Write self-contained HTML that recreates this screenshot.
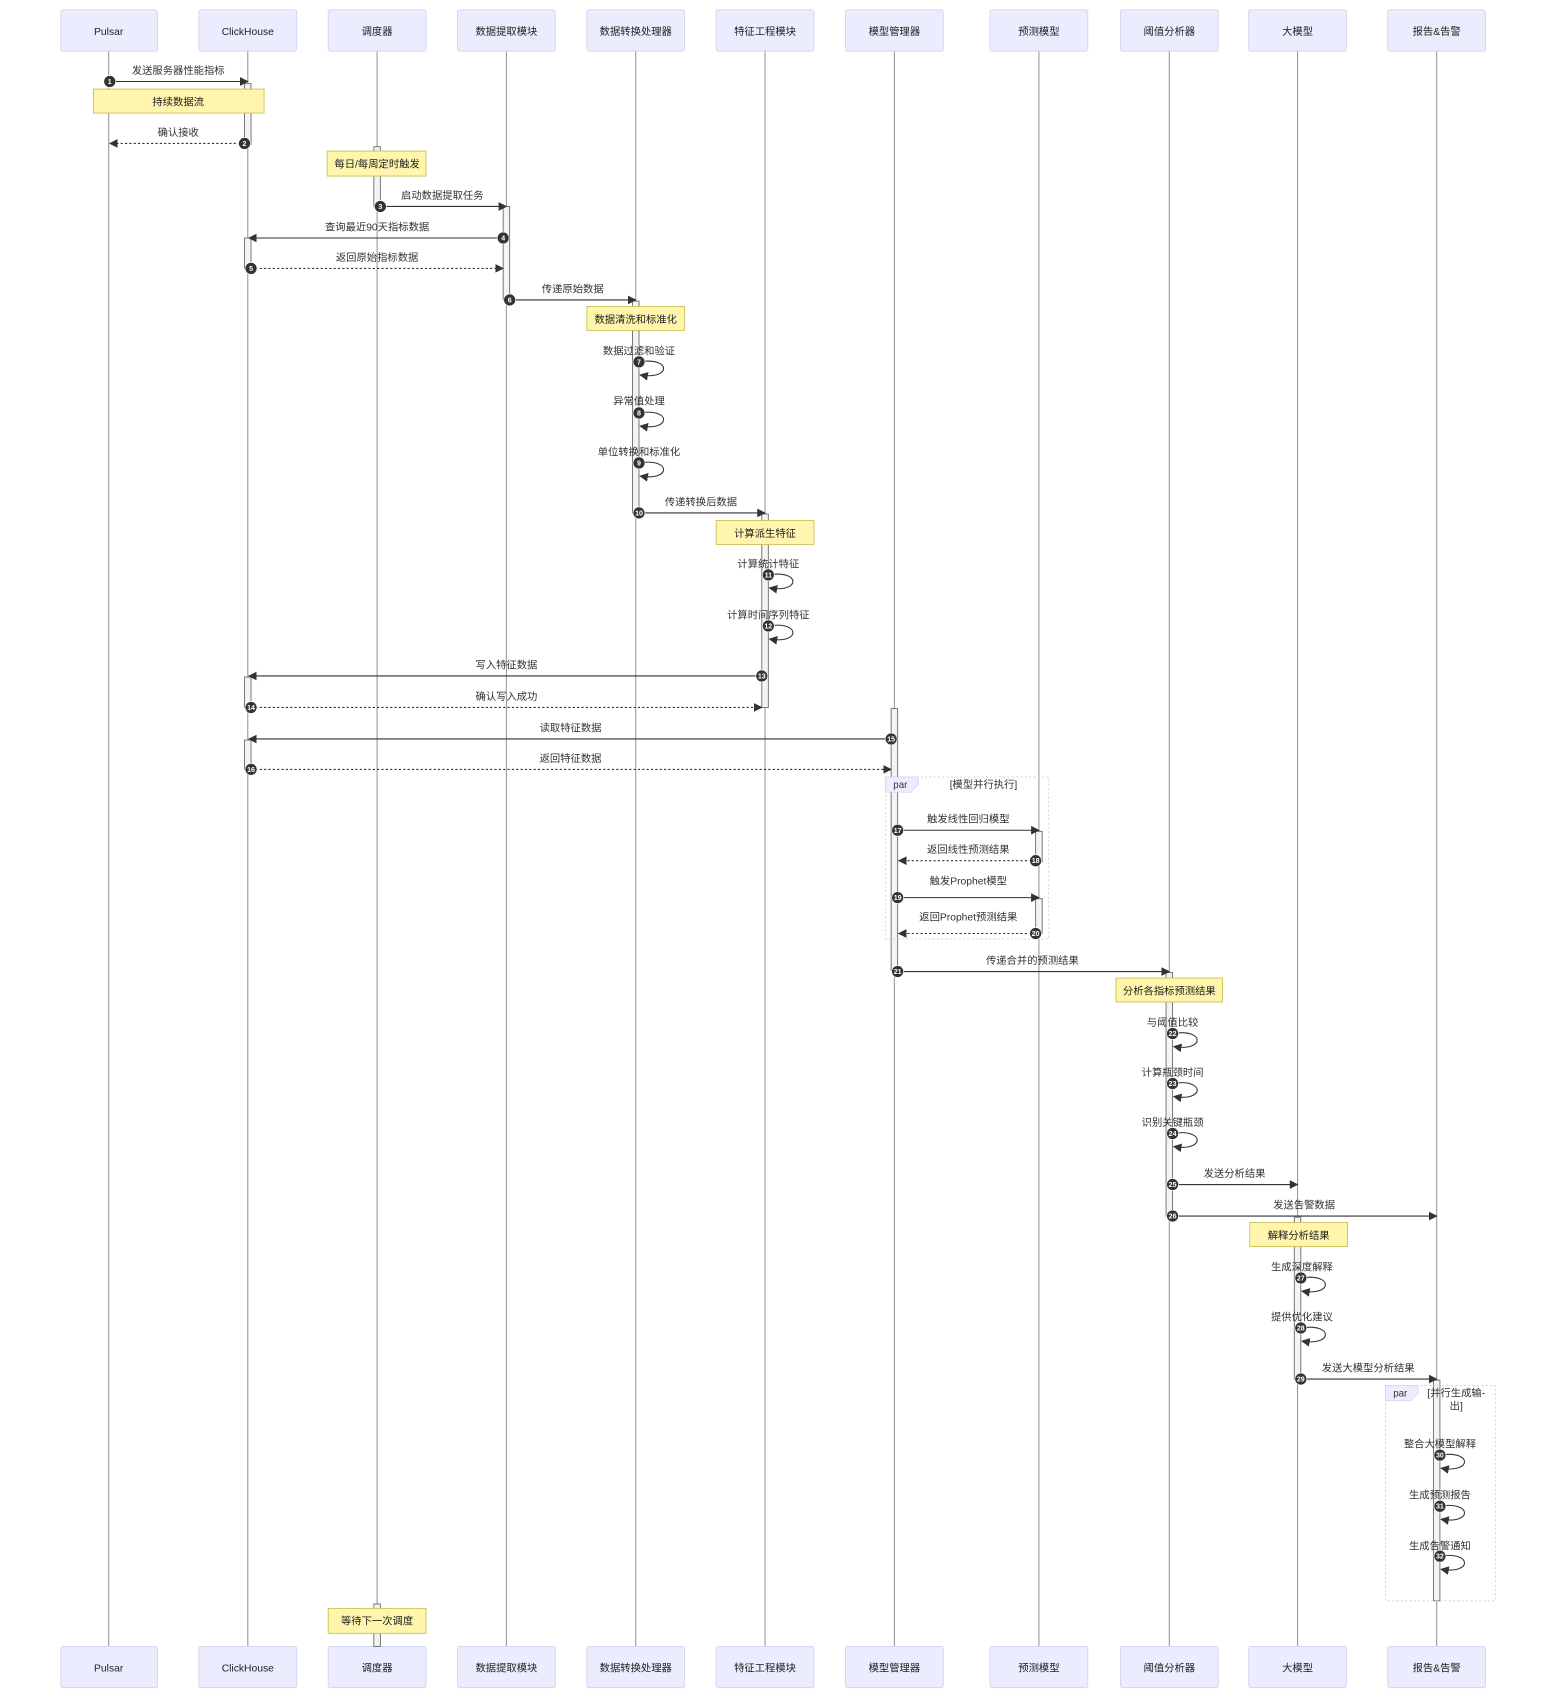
<!DOCTYPE html>
<html><head><meta charset="utf-8"><style>
html,body{margin:0;padding:0;background:#fff;}
svg{display:block;}
text{font-family:"Liberation Sans","Noto Sans CJK SC",sans-serif;fill:#333;}
.a{fill:#ECECFF;stroke:#d2d2f0;stroke-width:0.8;}
.at{font-size:9.5px;text-anchor:middle;fill:#222;}
.ll{stroke:#999;stroke-width:1;}
.m{stroke:#333;stroke-width:1;fill:none;marker-end:url(#ar);}
.d{stroke:#333;stroke-width:1;fill:none;stroke-dasharray:2,2;marker-end:url(#ar);}
.ml{font-size:9.5px;text-anchor:middle;}
.act{fill:#f4f4f4;stroke:#666;stroke-width:0.8;}
.n{fill:#fff5ad;stroke:#c8c050;stroke-width:0.8;}
.nt{font-size:9.5px;text-anchor:middle;fill:#222;}
.c{fill:#333;stroke:#fff;stroke-width:0.6;}
.ct{font-size:6.5px;text-anchor:middle;fill:#fff;font-weight:bold;}
.par{fill:none;stroke:#ccccee;stroke-width:0.8;stroke-dasharray:2,2;}
.pt{fill:#ECECFF;stroke:#ccccee;stroke-width:0.6;}
</style></head><body>
<svg width="1560" height="1704" viewBox="0 0 1435 1568" preserveAspectRatio="xMinYMin meet" xmlns="http://www.w3.org/2000/svg">
<defs><marker id="ar" viewBox="0 0 10 10" refX="9" refY="5" markerWidth="8" markerHeight="8" orient="auto" markerUnits="userSpaceOnUse"><path d="M0,0 L10,5 L0,10 z" fill="#333"/></marker></defs>

<g class="ll">
<line x1="100" y1="47" x2="100" y2="1515"/><line x1="228" y1="47" x2="228" y2="1515"/><line x1="347" y1="47" x2="347" y2="1515"/><line x1="466" y1="47" x2="466" y2="1515"/><line x1="585" y1="47" x2="585" y2="1515"/><line x1="704" y1="47" x2="704" y2="1515"/><line x1="823" y1="47" x2="823" y2="1515"/><line x1="956" y1="47" x2="956" y2="1515"/><line x1="1076" y1="47" x2="1076" y2="1515"/><line x1="1194" y1="47" x2="1194" y2="1515"/><line x1="1322" y1="47" x2="1322" y2="1515"/>
</g>

<g>
<rect class="a" x="56" y="9" width="89" height="38" rx="2"/><text class="at" x="100" y="32">Pulsar</text>
<rect class="a" x="183" y="9" width="90" height="38" rx="2"/><text class="at" x="228" y="32">ClickHouse</text>
<rect class="a" x="302" y="9" width="90" height="38" rx="2"/><text class="at" x="347" y="32">调度器</text>
<rect class="a" x="421" y="9" width="90" height="38" rx="2"/><text class="at" x="466" y="32">数据提取模块</text>
<rect class="a" x="540" y="9" width="90" height="38" rx="2"/><text class="at" x="585" y="32">数据转换处理器</text>
<rect class="a" x="659" y="9" width="90" height="38" rx="2"/><text class="at" x="704" y="32">特征工程模块</text>
<rect class="a" x="778" y="9" width="90" height="38" rx="2"/><text class="at" x="823" y="32">模型管理器</text>
<rect class="a" x="911" y="9" width="90" height="38" rx="2"/><text class="at" x="956" y="32">预测模型</text>
<rect class="a" x="1031" y="9" width="90" height="38" rx="2"/><text class="at" x="1076" y="32">阈值分析器</text>
<rect class="a" x="1149" y="9" width="90" height="38" rx="2"/><text class="at" x="1194" y="32">大模型</text>
<rect class="a" x="1277" y="9" width="90" height="38" rx="2"/><text class="at" x="1322" y="32">报告&amp;告警</text>
</g>
<g>
<rect class="a" x="56" y="1515" width="89" height="38" rx="2"/><text class="at" x="100" y="1538">Pulsar</text>
<rect class="a" x="183" y="1515" width="90" height="38" rx="2"/><text class="at" x="228" y="1538">ClickHouse</text>
<rect class="a" x="302" y="1515" width="90" height="38" rx="2"/><text class="at" x="347" y="1538">调度器</text>
<rect class="a" x="421" y="1515" width="90" height="38" rx="2"/><text class="at" x="466" y="1538">数据提取模块</text>
<rect class="a" x="540" y="1515" width="90" height="38" rx="2"/><text class="at" x="585" y="1538">数据转换处理器</text>
<rect class="a" x="659" y="1515" width="90" height="38" rx="2"/><text class="at" x="704" y="1538">特征工程模块</text>
<rect class="a" x="778" y="1515" width="90" height="38" rx="2"/><text class="at" x="823" y="1538">模型管理器</text>
<rect class="a" x="911" y="1515" width="90" height="38" rx="2"/><text class="at" x="956" y="1538">预测模型</text>
<rect class="a" x="1031" y="1515" width="90" height="38" rx="2"/><text class="at" x="1076" y="1538">阈值分析器</text>
<rect class="a" x="1149" y="1515" width="90" height="38" rx="2"/><text class="at" x="1194" y="1538">大模型</text>
<rect class="a" x="1277" y="1515" width="90" height="38" rx="2"/><text class="at" x="1322" y="1538">报告&amp;告警</text>
</g>

<g>
<rect class="act" x="225" y="77" width="6" height="56"/>
<rect class="act" x="344" y="135" width="6" height="55"/>
<rect class="act" x="463" y="190" width="6" height="86"/>
<rect class="act" x="225" y="219" width="6" height="28"/>
<rect class="act" x="582" y="277" width="6" height="195"/>
<rect class="act" x="701" y="473" width="6" height="178"/>
<rect class="act" x="225" y="623" width="6" height="28"/>
<rect class="act" x="820" y="652" width="6" height="241"/>
<rect class="act" x="225" y="681" width="6" height="27"/>
<rect class="act" x="953" y="765" width="6" height="28"/>
<rect class="act" x="953" y="827" width="6" height="32"/>
<rect class="act" x="1073" y="895" width="6" height="224"/>
<rect class="act" x="1191" y="1120" width="6" height="149"/>
<rect class="act" x="1319" y="1270" width="6" height="203"/>
<rect class="act" x="344" y="1476" width="6" height="39"/>
</g>

<rect class="par" x="815" y="715" width="150" height="149"/>
<path class="pt" d="M815,715 H845 V722 L838,729 H815 Z"/><text x="822" y="725" style="font-size:9px">par</text>
<text x="905" y="725" style="font-size:9.5px;text-anchor:middle">[模型并行执行]</text>
<rect class="par" x="1275" y="1275" width="101" height="198"/>
<path class="pt" d="M1275,1275 H1305 V1282 L1298,1289 H1275 Z"/><text x="1282" y="1285" style="font-size:9px">par</text>
<text x="1340" y="1285" style="font-size:9.5px;text-anchor:middle">[并行生成输-</text>
<text x="1340" y="1297" style="font-size:9.5px;text-anchor:middle">出]</text>

<rect class="n" x="86" y="82" width="157" height="22"/><text class="nt" x="164" y="97">持续数据流</text>
<rect class="n" x="301" y="139" width="91" height="23"/><text class="nt" x="347" y="154">每日/每周定时触发</text>
<rect class="n" x="540" y="282" width="90" height="22"/><text class="nt" x="585" y="297">数据清洗和标准化</text>
<rect class="n" x="659" y="479" width="90" height="22"/><text class="nt" x="704" y="494">计算派生特征</text>
<rect class="n" x="1027" y="900" width="98" height="22"/><text class="nt" x="1076" y="915">分析各指标预测结果</text>
<rect class="n" x="1150" y="1125" width="90" height="22"/><text class="nt" x="1195" y="1140">解释分析结果</text>
<rect class="n" x="302" y="1480" width="90" height="23"/><text class="nt" x="347" y="1495">等待下一次调度</text>

<g>
<line class="m" x1="101" y1="75" x2="228" y2="75"/><text class="ml" x="164" y="68">发送服务器性能指标</text>
<line class="d" x1="225" y1="132" x2="101" y2="132"/><text class="ml" x="164" y="125">确认接收</text>
<line class="m" x1="350" y1="190" x2="466" y2="190"/><text class="ml" x="407" y="183">启动数据提取任务</text>
<line class="m" x1="463" y1="219" x2="229" y2="219"/><text class="ml" x="347" y="212">查询最近90天指标数据</text>
<line class="d" x1="231" y1="247" x2="463" y2="247"/><text class="ml" x="347" y="240">返回原始指标数据</text>
<line class="m" x1="469" y1="276" x2="585" y2="276"/><text class="ml" x="527" y="269">传递原始数据</text>
<path class="m" d="M588,333 C618,328 618,350 589,345"/><text class="ml" x="588" y="326">数据过滤和验证</text>
<path class="m" d="M588,380 C618,375 618,397 589,392"/><text class="ml" x="588" y="372">异常值处理</text>
<path class="m" d="M588,426 C618,421 618,443 589,438"/><text class="ml" x="588" y="419">单位转换和标准化</text>
<line class="m" x1="588" y1="472" x2="704" y2="472"/><text class="ml" x="645" y="465">传递转换后数据</text>
<path class="m" d="M707,529 C737,524 737,546 708,541"/><text class="ml" x="707" y="522">计算统计特征</text>
<path class="m" d="M707,576 C737,571 737,593 708,588"/><text class="ml" x="707" y="569">计算时间序列特征</text>
<line class="m" x1="701" y1="622" x2="229" y2="622"/><text class="ml" x="466" y="615">写入特征数据</text>
<line class="d" x1="231" y1="651" x2="701" y2="651"/><text class="ml" x="466" y="644">确认写入成功</text>
<line class="m" x1="820" y1="680" x2="229" y2="680"/><text class="ml" x="525" y="673">读取特征数据</text>
<line class="d" x1="231" y1="708" x2="820" y2="708"/><text class="ml" x="525" y="701">返回特征数据</text>
<line class="m" x1="826" y1="764" x2="956" y2="764"/><text class="ml" x="891" y="757">触发线性回归模型</text>
<line class="d" x1="953" y1="792" x2="827" y2="792"/><text class="ml" x="891" y="785">返回线性预测结果</text>
<line class="m" x1="826" y1="826" x2="956" y2="826"/><text class="ml" x="891" y="814">触发Prophet模型</text>
<line class="d" x1="953" y1="859" x2="827" y2="859"/><text class="ml" x="891" y="847">返回Prophet预测结果</text>
<line class="m" x1="826" y1="894" x2="1076" y2="894"/><text class="ml" x="950" y="887">传递合并的预测结果</text>
<path class="m" d="M1079,951 C1109,946 1109,968 1080,963"/><text class="ml" x="1079" y="944">与阈值比较</text>
<path class="m" d="M1079,997 C1109,992 1109,1014 1080,1009"/><text class="ml" x="1079" y="990">计算瓶颈时间</text>
<path class="m" d="M1079,1043 C1109,1038 1109,1060 1080,1055"/><text class="ml" x="1079" y="1036">识别关键瓶颈</text>
<line class="m" x1="1079" y1="1090" x2="1194" y2="1090"/><text class="ml" x="1136" y="1083">发送分析结果</text>
<line class="m" x1="1079" y1="1119" x2="1322" y2="1119"/><text class="ml" x="1200" y="1112">发送告警数据</text>
<path class="m" d="M1197,1176 C1227,1171 1227,1193 1198,1188"/><text class="ml" x="1198" y="1169">生成深度解释</text>
<path class="m" d="M1197,1222 C1227,1217 1227,1239 1198,1234"/><text class="ml" x="1198" y="1215">提供优化建议</text>
<line class="m" x1="1197" y1="1269" x2="1322" y2="1269"/><text class="ml" x="1259" y="1262">发送大模型分析结果</text>
<path class="m" d="M1325,1339 C1355,1334 1355,1356 1326,1351"/><text class="ml" x="1325" y="1332">整合大模型解释</text>
<path class="m" d="M1325,1386 C1355,1381 1355,1403 1326,1398"/><text class="ml" x="1325" y="1379">生成预测报告</text>
<path class="m" d="M1325,1432 C1355,1427 1355,1449 1326,1444"/><text class="ml" x="1325" y="1426">生成告警通知</text>
</g>

<g>
<circle class="c" cx="101" cy="75" r="5.5"/><text class="ct" x="101" y="77.3">1</text>
<circle class="c" cx="225" cy="132" r="5.5"/><text class="ct" x="225" y="134.3">2</text>
<circle class="c" cx="350" cy="190" r="5.5"/><text class="ct" x="350" y="192.3">3</text>
<circle class="c" cx="463" cy="219" r="5.5"/><text class="ct" x="463" y="221.3">4</text>
<circle class="c" cx="231" cy="247" r="5.5"/><text class="ct" x="231" y="249.3">5</text>
<circle class="c" cx="469" cy="276" r="5.5"/><text class="ct" x="469" y="278.3">6</text>
<circle class="c" cx="588" cy="333" r="5.5"/><text class="ct" x="588" y="335.3">7</text>
<circle class="c" cx="588" cy="380" r="5.5"/><text class="ct" x="588" y="382.3">8</text>
<circle class="c" cx="588" cy="426" r="5.5"/><text class="ct" x="588" y="428.3">9</text>
<circle class="c" cx="588" cy="472" r="5.5"/><text class="ct" x="588" y="474.3">10</text>
<circle class="c" cx="707" cy="529" r="5.5"/><text class="ct" x="707" y="531.3">11</text>
<circle class="c" cx="707" cy="576" r="5.5"/><text class="ct" x="707" y="578.3">12</text>
<circle class="c" cx="701" cy="622" r="5.5"/><text class="ct" x="701" y="624.3">13</text>
<circle class="c" cx="231" cy="651" r="5.5"/><text class="ct" x="231" y="653.3">14</text>
<circle class="c" cx="820" cy="680" r="5.5"/><text class="ct" x="820" y="682.3">15</text>
<circle class="c" cx="231" cy="708" r="5.5"/><text class="ct" x="231" y="710.3">16</text>
<circle class="c" cx="826" cy="764" r="5.5"/><text class="ct" x="826" y="766.3">17</text>
<circle class="c" cx="953" cy="792" r="5.5"/><text class="ct" x="953" y="794.3">18</text>
<circle class="c" cx="826" cy="826" r="5.5"/><text class="ct" x="826" y="828.3">19</text>
<circle class="c" cx="953" cy="859" r="5.5"/><text class="ct" x="953" y="861.3">20</text>
<circle class="c" cx="826" cy="894" r="5.5"/><text class="ct" x="826" y="896.3">21</text>
<circle class="c" cx="1079" cy="951" r="5.5"/><text class="ct" x="1079" y="953.3">22</text>
<circle class="c" cx="1079" cy="997" r="5.5"/><text class="ct" x="1079" y="999.3">23</text>
<circle class="c" cx="1079" cy="1043" r="5.5"/><text class="ct" x="1079" y="1045.3">24</text>
<circle class="c" cx="1079" cy="1090" r="5.5"/><text class="ct" x="1079" y="1092.3">25</text>
<circle class="c" cx="1079" cy="1119" r="5.5"/><text class="ct" x="1079" y="1121.3">26</text>
<circle class="c" cx="1197" cy="1176" r="5.5"/><text class="ct" x="1197" y="1178.3">27</text>
<circle class="c" cx="1197" cy="1222" r="5.5"/><text class="ct" x="1197" y="1224.3">28</text>
<circle class="c" cx="1197" cy="1269" r="5.5"/><text class="ct" x="1197" y="1271.3">29</text>
<circle class="c" cx="1325" cy="1339" r="5.5"/><text class="ct" x="1325" y="1341.3">30</text>
<circle class="c" cx="1325" cy="1386" r="5.5"/><text class="ct" x="1325" y="1388.3">31</text>
<circle class="c" cx="1325" cy="1432" r="5.5"/><text class="ct" x="1325" y="1434.3">32</text>
</g>
</svg>
</body></html>
